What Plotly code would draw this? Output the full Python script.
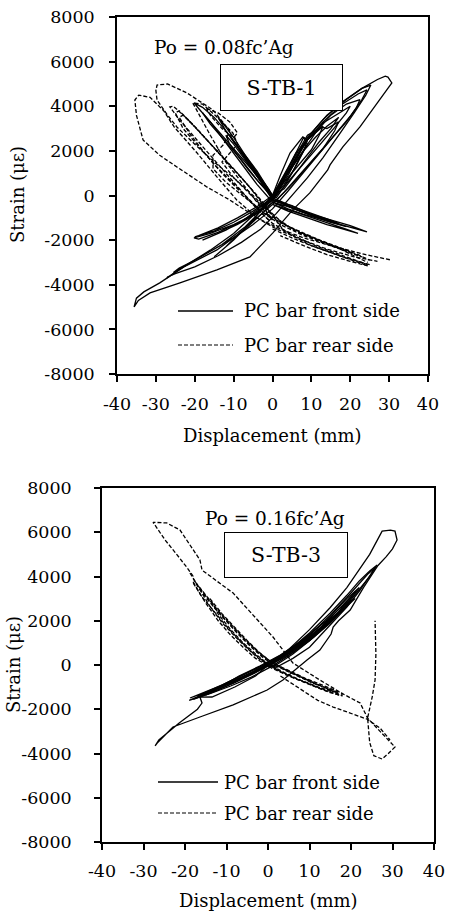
import plotly.graph_objects as go

W, H = 449, 912

def px(x):
    return x / W

def py(y):
    return 1 - y / H

# ---------------- tick labels ----------------
x_tick_vals = [-40, -30, -20, -10, 0, 10, 20, 30, 40]
x_tick_text = ["-40", "-30", "-20", "-10", "0", "10", "20", "30", "40"]
y_tick_vals = [-8000, -6000, -4000, -2000, 0, 2000, 4000, 6000, 8000]
y_tick_text = ["-8000", "-6000", "-4000", "-2000", "0", "2000", "4000", "6000", "8000"]

# ---------------- S-TB-1 : PC bar front side (solid) ----------------
tb1_f_a_x = [0, 3, 6, 9, 13, 18, 23, 27, 29, 29.7, 30.7, 29.4, 26.3, 22.5, 18.1, 14.8, 14.2, 9.6, 5.2, 0.1, -5.8, -14.3, -23.8, -31.5, -34.5, -35.6, -35.0, -33.1, -29.0, -22.8, -14.3, -7.0, -2.0, 0]
tb1_f_a_y = [-300, 700, 1700, 2600, 3400, 4200, 4800, 5200, 5350, 5310, 5043, 4730, 3968, 3072, 2176, 1370, 1146, 115, -646, -1677, -2752, -3334, -3917, -4365, -4700, -4990, -4600, -4320, -3917, -3200, -2438, -1500, -700, -300]
tb1_f_b_x = [0, 4, 7, 10, 14, 19, 23, 25.3, 24, 21, 17, 13, 9, 5, 1, -3, -8, -14, -20, -25, -27, -27.1, -26, -22, -16, -10, -5, 0]
tb1_f_b_y = [-200, 900, 1900, 2800, 3600, 4300, 4800, 4950, 4500, 3700, 2700, 1700, 800, 0, -800, -1500, -2100, -2700, -3200, -3500, -3650, -3700, -3550, -3100, -2450, -1700, -900, -200]
tb1_f_c_x = [0, 3, 6, 9, 13, 18, 22, 24.3, 23, 20, 16, 12, 8, 4, 0, -5, -10, -15, -20, -24, -25.5, -24, -19, -13, -7, -3, 0]
tb1_f_c_y = [-100, 800, 1700, 2500, 3300, 4100, 4550, 4730, 4300, 3550, 2700, 1850, 1000, 200, -600, -1300, -1900, -2400, -2900, -3250, -3450, -3300, -2800, -2200, -1400, -700, -100]
tb1_f_d_x = [0, 4, 8, 11, 15, 19, 22.5, 21.5, 19, 15, 11, 7, 3, 0, -4, -8, -12, -15, -14, -10, -5, 0]
tb1_f_d_y = [0, 1000, 2000, 2800, 3600, 4100, 4300, 3900, 3300, 2500, 1700, 900, 150, -400, -1000, -1600, -2300, -2750, -2600, -2000, -1100, 0]
tb1_f_e_x = [0, 3, 6, 9, 12.7, 14, 17, 16, 13, 9, 5, 1, -4, -10, -16, -20.2, -19, -14, -8, -3, 0]
tb1_f_e_y = [0, 900, 1800, 2700, 3072, 3000, 3300, 2900, 2100, 1300, 500, -200, -800, -1300, -1700, -1900, -1950, -1650, -1150, -600, 0]
tb1_f_f_x = [0, 2, 4.5, 7.8, 9, 8, 6, 3, 0, -5, -10, -15, -20, -19, -14, -9, -4, 0]
tb1_f_f_y = [0, 900, 1900, 2624, 2500, 2000, 1300, 500, -100, -700, -1200, -1600, -1850, -1800, -1450, -1000, -500, 0]
tb1_f_g_x = [0, -3, -6, -9, -12, -15, -18, -20.2, -19, -16, -13, -10, -7, -4, -1, 0]
tb1_f_g_y = [-200, 600, 1400, 2200, 2900, 3500, 3950, 4150, 3900, 3300, 2600, 1900, 1200, 500, -100, -200]
tb1_f_h_x = [0, -3, -6, -9, -12, -14, -13, -10, -7, -4, -1, 0]
tb1_f_h_y = [0, 700, 1400, 2200, 2900, 3500, 3300, 2600, 1800, 1100, 300, 0]
tb1_f_i_x = [0, -3, -6, -9, -11, -10, -7, -4, -1, 0]
tb1_f_i_y = [0, 700, 1500, 2200, 2700, 2400, 1700, 1000, 300, 0]
tb1_f_j_x = [0, 4, 8, 12, 16, 20, 24.3, 20, 16, 12, 8, 4, 0]
tb1_f_j_y = [-300, -600, -850, -1050, -1250, -1450, -1630, -1350, -1150, -950, -750, -500, -300]
tb1_f_k_x = [0, 5, 10, 15, 19, 15, 10, 5, 0]
tb1_f_k_y = [-200, -550, -900, -1200, -1400, -1150, -850, -450, -200]
tb1_f_l_x = [0, 3, 6, 9, 13, 20, 19, 16, 12, 8, 4, 0, -4, -9, -14, -18, -17, -12, -7, -3, 0]
tb1_f_l_y = [-100, 800, 1650, 2500, 3250, 4000, 3700, 3050, 2250, 1450, 650, -200, -800, -1300, -1700, -2000, -1950, -1550, -1050, -500, -100]
tb1_f_m_x = [0, 2, 4, 6, 9, 13, 12, 10, 7, 4, 1, 0]
tb1_f_m_y = [0, 600, 1250, 1900, 2500, 3100, 2700, 2050, 1400, 800, 200, 0]
tb1_f_n_x = [0, 2, 4, 6, 8, 9, 7, 5, 3, 1, 0]
tb1_f_n_y = [0, 500, 1200, 1900, 2600, 2300, 1700, 1000, 400, -100, 0]
tb1_f_o_x = [0, -2, -5, -8, -10, -12, -11, -9, -6, -3, 0]
tb1_f_o_y = [0, 400, 1100, 1800, 2300, 2700, 2300, 1800, 1100, 500, 0]
tb1_f_p_x = [0, -4, -8, -12, -16, -18, -17, -13, -9, -5, -1, 0]
tb1_f_p_y = [-100, 700, 1600, 2400, 3200, 3700, 3500, 2700, 1900, 1100, 200, -100]
tb1_f_q_x = [0, 4, 9, 14, 18, 22, 18, 13, 8, 3, 0]
tb1_f_q_y = [-400, -700, -1000, -1300, -1500, -1700, -1450, -1150, -850, -550, -400]
tb1_f_r_x = [0, 3, 7, 11, 15, 17, 14, 10, 6, 2, 0]
tb1_f_r_y = [-100, -400, -700, -950, -1150, -1250, -1050, -800, -550, -250, -100]
tb1_f_s_x = [0, -2, -4, -6, -8, -9, -7, -5, -3, -1, 0]
tb1_f_s_y = [0, 500, 1000, 1500, 1900, 2200, 1800, 1300, 800, 300, 0]
tb1_f_t_x = [0, 2, 5, 8, 11, 14, 17, 15, 12, 9, 6, 3, 0]
tb1_f_t_y = [0, 500, 1300, 2000, 2600, 3100, 3500, 3000, 2400, 1700, 1000, 300, 0]

# ---------------- S-TB-1 : PC bar rear side (dashed) ----------------
tb1_r_a_x = [30.2, 24, 16, 8, 2, -4, -11, -16.9, -24.6, -29, -33.3, -35, -35.4, -34.4, -31.5, -28, -25.3, -19.4, -14.3, -9.2, -4, 1, 7, 14, 21, 27]
tb1_r_a_y = [-2880, -2650, -2300, -1900, -1500, -1000, -200, 384, 1280, 1800, 2490, 3600, 4280, 4500, 4400, 3800, 3072, 1907, 832, -198, -1000, -1500, -1950, -2400, -2750, -2950]
tb1_r_b_x = [25, 18, 10, 3, 0, -5, -10, -15, -20, -24.6, -27, -29.7, -30, -29.7, -27, -22, -15.3, -11, -12.5, -15.3, -15.3, -12, -7, -2, 3, 10, 18, 24.5]
tb1_r_b_y = [-3100, -2750, -2250, -1600, -900, 0, 800, 1500, 2300, 3072, 3600, 4282, 4700, 4950, 5000, 4595, 3834, 2900, 2300, 1800, 1200, 600, -100, -800, -1300, -1850, -2450, -3000]
tb1_r_c_x = [24.5, 18, 11, 5, 0, -4, -8, -12, -16, -20, -24, -26.4, -25.5, -22, -18, -14, -10, -6, -2, 3, 9, 16, 22, 25]
tb1_r_c_y = [-3100, -2700, -2250, -1750, -1250, -600, 200, 1000, 1800, 2600, 3400, 3968, 4000, 3450, 2700, 1950, 1200, 400, -500, -1300, -1800, -2250, -2650, -2900]
tb1_r_d_x = [22, 15, 8, 2, -3, -7, -11, -15, -19, -23, -25, -24, -20, -16, -12, -8, -4, 0, 6, 13, 20, 23]
tb1_r_d_y = [-2700, -2250, -1800, -1300, -700, 0, 700, 1400, 2200, 3000, 3700, 3800, 3100, 2300, 1550, 800, 0, -900, -1600, -2100, -2550, -2750]
tb1_r_e_x = [0, -4, -8, -12, -16, -20.5, -18, -14.3, -10.2, -9, -11, -13, -10, -6, -2, 0]
tb1_r_e_y = [-1100, -300, 600, 1500, 2700, 4147, 4100, 3520, 2803, 2300, 1900, 1500, 800, 100, -600, -1100]
tb1_r_f_x = [-17, -14, -11, -9, -10, -13, -16, -17]
tb1_r_f_y = [3900, 3700, 3300, 2800, 2600, 3000, 3600, 3900]
tb1_r_g_x = [0, 5, 10, 15, 20, 24.5, 20, 14, 8, 2]
tb1_r_g_y = [-1500, -1900, -2250, -2550, -2850, -3150, -2950, -2650, -2250, -1800]
tb1_r_h_x = [-1, -5, -9, -13, -17, -21, -24, -23, -19, -15, -11, -7, -3, 1, 7, 14, 21]
tb1_r_h_y = [-1100, -400, 300, 1000, 1800, 2700, 3500, 3600, 2900, 2100, 1350, 600, -200, -1100, -1650, -2150, -2600]

# ---------------- S-TB-3 : PC bar front side (solid) ----------------
tb3_f_a_x = [0, 5, 10, 15, 19, 22, 24.5, 26.5, 27.5, 29.5, 30.6, 31.1, 30, 28.5, 26.5, 23, 19.8, 17, 15.7, 15.2, 12.5, 9.4, 3.6, -0.2, -8.4, -16.4, -22.9, -26.7, -27.2, -26.3, -21.4, -17, -15.9, -16.4, -13.5, -8, -3, 0]
tb3_f_a_y = [0, 700, 1600, 2600, 3500, 4300, 5000, 5700, 6050, 6100, 6050, 5650, 5250, 4900, 4500, 3500, 2485, 2000, 1717, 1400, 677, 226, -680, -1130, -1800, -2350, -2800, -3526, -3650, -3390, -2620, -2000, -1718, -1450, -1447, -995, -500, 0]
tb3_f_b_x = [0, 5, 10, 15, 19, 22, 24.5, 26.3, 25.5, 22.2, 19, 16, 13, 10, 6, 2, 0]
tb3_f_b_y = [0, 650, 1450, 2350, 3150, 3800, 4250, 4520, 4300, 3390, 2620, 2000, 1400, 800, 300, -100, 0]
tb3_f_c_x = [0, 5, 10, 15, 19, 22, 24, 25.8, 24.5, 21.5, 18, 14, 10, 6, 2, 0]
tb3_f_c_y = [-100, 600, 1350, 2250, 3050, 3700, 4100, 4400, 4000, 3300, 2500, 1800, 1100, 500, 0, -100]
tb3_f_d_x = [-18.8, -15, -10, -5, 0, 5, 10, 15, 20, 21, 17, 12, 7, 2, -3, -8, -13, -18.8]
tb3_f_d_y = [-1492, -1200, -850, -450, 0, 500, 1150, 1950, 2900, 3000, 2300, 1500, 800, 200, -300, -700, -1100, -1492]
tb3_f_e_x = [-18, -13, -8, -3, 2, 7, 12, 17, 21, 18, 13, 8, 3, -2, -7, -12, -18]
tb3_f_e_y = [-1550, -1200, -800, -350, 200, 800, 1500, 2400, 3300, 2700, 1750, 1000, 350, -150, -600, -1050, -1550]
tb3_f_f_x = [-15, -10, -5, 0, 5, 10, 15, 19, 15, 10, 5, 0, -5, -10, -15]
tb3_f_f_y = [-1350, -950, -500, -50, 450, 1100, 1900, 2700, 2000, 1250, 600, 100, -350, -800, -1350]
tb3_f_g_x = [-12, -7, -2, 3, 8, 13, 17, 13, 8, 3, -2, -7, -12]
tb3_f_g_y = [-1050, -650, -200, 300, 900, 1700, 2350, 1850, 1100, 450, -50, -500, -1050]
tb3_f_h_x = [-17, -12, -7, -2, 3, 8, 13, 18, 22, 19, 14, 9, 4, -1, -6, -11, -17]
tb3_f_h_y = [-1400, -1050, -650, -200, 300, 900, 1650, 2550, 3500, 3000, 2000, 1200, 550, 0, -450, -900, -1400]
tb3_f_i_x = [-19, -14, -9, -4, 1, 6, 11, 16, 20, 16, 11, 6, 1, -4, -9, -14, -19]
tb3_f_i_y = [-1600, -1300, -950, -550, -50, 550, 1250, 2100, 2950, 2200, 1400, 700, 150, -350, -800, -1200, -1600]

# ---------------- S-TB-3 : PC bar rear side (dashed) ----------------
tb3_r_a_x = [-18, -19.5, -22, -24.8, -27.7, -24.4, -21.2, -16.4, -15.9, -8.4, 1.2, 6, 12.5, 18, 22.2, 24, 27, 30.6, 29, 27.5, 25.5, 24.5, 24, 25.1, 25.8, 26, 25.8]
tb3_r_a_y = [4000, 4400, 5000, 5650, 6450, 6420, 6100, 4750, 4290, 3250, 1265, 90, -680, -1300, -1718, -2400, -3000, -3707, -4000, -4250, -4100, -3500, -2400, -1450, -680, 500, 2000]
tb3_r_b_x = [-18.8, -17, -14, -11, -8, -5, -2, 1, 5, 9, 13, 16, 18.1, 17, 13, 9, 5, 1, -3, -6, -9, -12, -15, -18]
tb3_r_b_y = [4158, 3600, 2900, 2200, 1600, 1050, 500, 100, -250, -600, -900, -1150, -1300, -1350, -1100, -800, -500, -150, 300, 800, 1350, 2000, 2800, 3700]
tb3_r_c_x = [-18, -16, -13, -10, -7, -4, -1, 2, 6, 10, 14, 18, 15, 11, 7, 3, -1, -4, -7, -10, -13, -16, -18.3]
tb3_r_c_y = [3900, 3300, 2600, 1950, 1350, 800, 300, -50, -400, -750, -1050, -1400, -1250, -950, -650, -300, 150, 600, 1150, 1750, 2400, 3100, 3842]
tb3_r_d_x = [-14, -11, -8, -5, -2, 1, 4, 8, 12, 16, 12, 8, 4, 0, -3, -6, -9, -12, -14]
tb3_r_d_y = [3000, 2300, 1700, 1100, 550, 100, -200, -550, -900, -1200, -1000, -700, -350, 50, 500, 1000, 1600, 2300, 3000]
tb3_r_e_x = [3, 8, 12, 15.7, 20, 23.9, 27, 29.4]
tb3_r_e_y = [-500, -1100, -1600, -1900, -2200, -2450, -2850, -3390]
tb3_r_f_x = [-17.5, -15, -12, -9, -6, -3, 0, 3, 7, 11, 15, 17, 14, 10, 6, 2, -2, -5, -8, -11, -14, -17.5]
tb3_r_f_y = [3750, 3150, 2450, 1850, 1250, 700, 250, -100, -450, -800, -1100, -1250, -1150, -850, -550, -200, 250, 750, 1300, 1900, 2650, 3750]

def join(paths):
    xs, ys = [], []
    for x, y in paths:
        xs += list(x) + [None]
        ys += list(y) + [None]
    return xs, ys


tb1_front = join([(tb1_f_a_x, tb1_f_a_y), (tb1_f_b_x, tb1_f_b_y), (tb1_f_c_x, tb1_f_c_y),
                  (tb1_f_d_x, tb1_f_d_y), (tb1_f_e_x, tb1_f_e_y), (tb1_f_f_x, tb1_f_f_y),
                  (tb1_f_g_x, tb1_f_g_y), (tb1_f_h_x, tb1_f_h_y), (tb1_f_i_x, tb1_f_i_y),
                  (tb1_f_j_x, tb1_f_j_y), (tb1_f_k_x, tb1_f_k_y), (tb1_f_l_x, tb1_f_l_y),
                  (tb1_f_m_x, tb1_f_m_y), (tb1_f_n_x, tb1_f_n_y), (tb1_f_o_x, tb1_f_o_y),
                  (tb1_f_p_x, tb1_f_p_y), (tb1_f_q_x, tb1_f_q_y), (tb1_f_r_x, tb1_f_r_y),
                  (tb1_f_s_x, tb1_f_s_y), (tb1_f_t_x, tb1_f_t_y)])
tb1_rear = join([(tb1_r_a_x, tb1_r_a_y), (tb1_r_b_x, tb1_r_b_y), (tb1_r_c_x, tb1_r_c_y),
                 (tb1_r_d_x, tb1_r_d_y), (tb1_r_e_x, tb1_r_e_y), (tb1_r_f_x, tb1_r_f_y),
                 (tb1_r_g_x, tb1_r_g_y), (tb1_r_h_x, tb1_r_h_y)])
tb3_front = join([(tb3_f_a_x, tb3_f_a_y), (tb3_f_b_x, tb3_f_b_y), (tb3_f_c_x, tb3_f_c_y),
                  (tb3_f_d_x, tb3_f_d_y), (tb3_f_e_x, tb3_f_e_y), (tb3_f_f_x, tb3_f_f_y),
                  (tb3_f_g_x, tb3_f_g_y), (tb3_f_h_x, tb3_f_h_y), (tb3_f_i_x, tb3_f_i_y)])
tb3_rear = join([(tb3_r_a_x, tb3_r_a_y), (tb3_r_b_x, tb3_r_b_y), (tb3_r_c_x, tb3_r_c_y),
                 (tb3_r_d_x, tb3_r_d_y), (tb3_r_e_x, tb3_r_e_y), (tb3_r_f_x, tb3_r_f_y)])

FONT = "DejaVu Serif"
DASH = "4px,2px"
LW = 1.3

fig = go.Figure()
fig.add_trace(go.Scatter(x=tb1_front[0], y=tb1_front[1], mode="lines", name="PC bar front side",
                         line=dict(color="black", width=LW), xaxis="x", yaxis="y", showlegend=False))
fig.add_trace(go.Scatter(x=tb1_rear[0], y=tb1_rear[1], mode="lines", name="PC bar rear side",
                         line=dict(color="black", width=LW, dash=DASH), xaxis="x", yaxis="y", showlegend=False))
fig.add_trace(go.Scatter(x=tb3_front[0], y=tb3_front[1], mode="lines", name="PC bar front side",
                         line=dict(color="black", width=LW), xaxis="x2", yaxis="y2", showlegend=False))
fig.add_trace(go.Scatter(x=tb3_rear[0], y=tb3_rear[1], mode="lines", name="PC bar rear side",
                         line=dict(color="black", width=LW, dash=DASH), xaxis="x2", yaxis="y2", showlegend=False))


def xax(domain, anchor, standoff):
    return dict(domain=domain, anchor=anchor, range=[-40, 40], tickmode="array",
                tickvals=x_tick_vals, ticktext=x_tick_text, ticks="outside", ticklen=6,
                tickwidth=1.5, tickcolor="black", showline=True, mirror=True, linecolor="black",
                linewidth=1.5, showgrid=False, zeroline=False, ticklabelstandoff=standoff,
                ticklabeloverflow="allow",
                tickfont=dict(family=FONT, size=17.5, color="black"))


def yax(domain, anchor, standoff):
    return dict(domain=domain, anchor=anchor, range=[-8000, 8000], tickmode="array",
                tickvals=y_tick_vals, ticktext=y_tick_text, ticks="outside", ticklen=6,
                tickwidth=1.5, tickcolor="black", showline=True, mirror=True, linecolor="black",
                linewidth=1.5, showgrid=False, zeroline=False, ticklabelstandoff=standoff,
                ticklabeloverflow="allow",
                tickfont=dict(family=FONT, size=17.5, color="black"))


annotations = []
shapes = []


def text(x, y, s, size, xanchor="center", angle=0, **kw):
    annotations.append(dict(x=px(x), y=py(y), xref="paper", yref="paper", text=s, showarrow=False,
                            xanchor=xanchor, yanchor="middle", textangle=angle,
                            font=dict(family=FONT, size=size, color="black"), **kw))


def legend(x0, x1, tx, y_solid, y_dash):
    shapes.append(dict(type="line", xref="paper", yref="paper", x0=px(x0), x1=px(x1),
                       y0=py(y_solid), y1=py(y_solid), line=dict(color="black", width=1.5)))
    shapes.append(dict(type="line", xref="paper", yref="paper", x0=px(x0), x1=px(x1),
                       y0=py(y_dash), y1=py(y_dash), line=dict(color="black", width=1.2, dash=DASH)))
    text(tx, y_solid, "PC bar front side", 18, xanchor="left")
    text(tx, y_dash, "PC bar rear side", 18, xanchor="left")


# chart 1
text(224, 47, "Po = 0.08fc’Ag", 18.5)
text(281.5, 87.5, "S-TB-1", 20.5, width=121, height=45, bordercolor="black", borderwidth=1,
     borderpad=0, bgcolor="white")
legend(178, 233, 242, 311, 345)
text(272, 435, "Displacement (mm)", 18)
text(18, 195, "Strain (με)", 18, angle=-90)

# chart 2
text(275, 518, "Po = 0.16fc’Ag", 18.5)
text(286, 555, "S-TB-3", 20.5, width=122, height=44, bordercolor="black", borderwidth=1,
     borderpad=0, bgcolor="white")
legend(158, 218, 222, 782, 813)
text(268, 900, "Displacement (mm)", 18)
text(13, 665, "Strain (με)", 18, angle=-90)

fig.update_layout(
    width=W, height=H, margin=dict(l=0, r=0, t=0, b=0, autoexpand=False),
    paper_bgcolor="white", plot_bgcolor="white", showlegend=False,
    xaxis=xax([px(117), px(428)], "y", 7),
    yaxis=yax([py(374), py(17)], "x", 11),
    xaxis2=xax([px(102), px(434)], "y2", 6),
    yaxis2=yax([py(842), py(488)], "x2", 19),
    annotations=annotations, shapes=shapes,
)

fig.write_html("out.html", config={"displayModeBar": False},
               post_script="document.body.style.margin='0';document.body.style.overflow='hidden';")
